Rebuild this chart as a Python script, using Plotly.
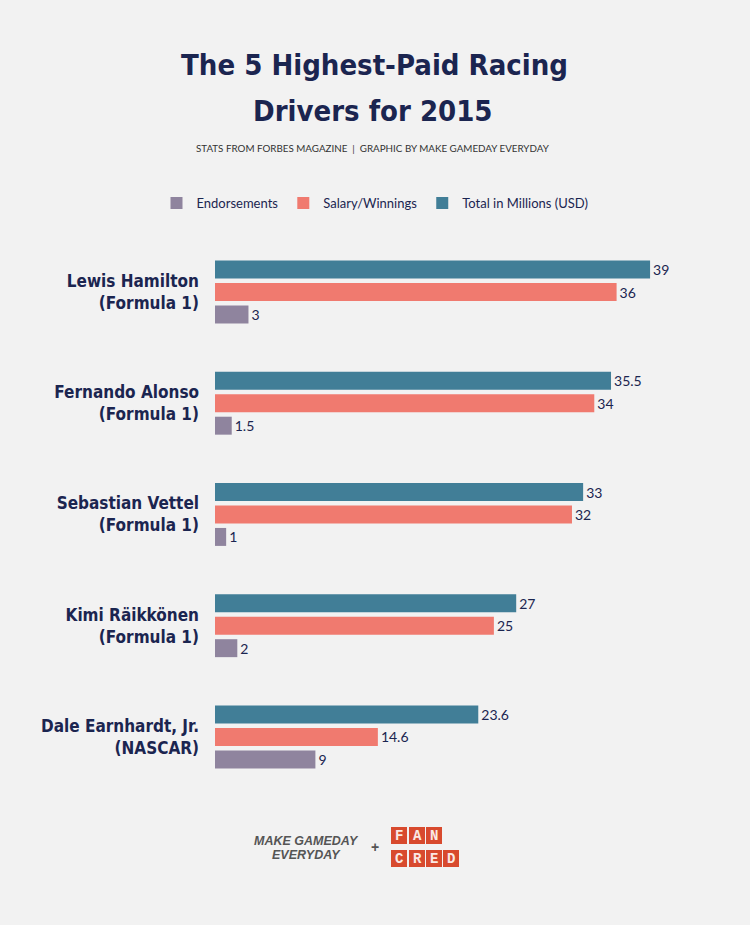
import plotly.graph_objects as go

drivers = ["Lewis Hamilton<br>(Formula 1)", "Fernando Alonso<br>(Formula 1)",
           "Sebastian Vettel<br>(Formula 1)", "Kimi Räikkönen<br>(Formula 1)",
           "Dale Earnhardt, Jr.<br>(NASCAR)"]
total = [39, 35.5, 33, 27, 23.6]
salary = [36, 34, 32, 25, 14.6]
endorsements = [3, 1.5, 1, 2, 9]

W, H = 750, 925
NAVY = "#1b2550"
BG = "#f2f2f2"

def px_x(x):
    return x / W

def px_y(y):
    return 1 - y / H

fig = go.Figure()
series = [("Total in Millions (USD)", total, "#417e97"),
          ("Salary/Winnings", salary, "#f07a6f"),
          ("Endorsements", endorsements, "#8f849e")]
for name, vals, col in series:
    fig.add_trace(go.Bar(
        y=drivers, x=vals, name=name, orientation="h",
        marker=dict(color=col, line=dict(width=0)),
        text=[f"{v:g}" for v in vals], textposition="outside",
        textfont=dict(family="Lato", size=14, color=NAVY),
        cliponaxis=False, hoverinfo="skip"))

title_font = dict(family="DejaVu Sans Condensed", size=29, color=NAVY, weight=700)
annotations = [
    dict(text="The 5 Highest-Paid Racing", x=px_x(374), y=px_y(65),
         xref="paper", yref="paper", showarrow=False, xanchor="center", yanchor="middle",
         font=title_font),
    dict(text="Drivers for 2015", x=px_x(373), y=px_y(111),
         xref="paper", yref="paper", showarrow=False, xanchor="center", yanchor="middle",
         font=title_font),
    dict(text="STATS FROM FORBES MAGAZINE  |  GRAPHIC BY MAKE GAMEDAY EVERYDAY",
         x=px_x(373), y=px_y(148), xref="paper", yref="paper", showarrow=False,
         xanchor="center", yanchor="middle",
         font=dict(family="Lato", size=9.8, color="#333333")),
    dict(text="<b><i>MAKE GAMEDAY</i></b>", x=px_x(306), y=px_y(841), xref="paper", yref="paper",
         showarrow=False, xanchor="center", yanchor="middle",
         font=dict(family="Liberation Sans", size=12.5, color="#555555")),
    dict(text="<b><i>EVERYDAY</i></b>", x=px_x(306), y=px_y(855), xref="paper", yref="paper",
         showarrow=False, xanchor="center", yanchor="middle",
         font=dict(family="Liberation Sans", size=12.5, color="#555555")),
    dict(text="<b>+</b>", x=px_x(375), y=px_y(847), xref="paper", yref="paper",
         showarrow=False, xanchor="center", yanchor="middle",
         font=dict(family="Liberation Sans", size=14, color="#555555")),
]

shapes = []
boxes = [("F", 391, 827), ("A", 409, 827), ("N", 426, 827),
         ("C", 391, 850), ("R", 409, 850), ("E", 426, 850), ("D", 443, 850)]
for letter, bx, by in boxes:
    shapes.append(dict(type="rect", xref="paper", yref="paper",
                       x0=px_x(bx), x1=px_x(bx + 16), y0=px_y(by + 17), y1=px_y(by),
                       fillcolor="#d84a2e", line=dict(width=0), layer="above"))
    annotations.append(dict(text=f"<b>{letter}</b>", x=px_x(bx + 8), y=px_y(by + 8.5),
                            xref="paper", yref="paper", showarrow=False,
                            xanchor="center", yanchor="middle",
                            font=dict(family="Liberation Mono", size=14, color="#fbe9e4")))

fig.update_layout(
    width=W, height=H,
    margin=dict(l=0, r=0, t=0, b=0),
    paper_bgcolor=BG, plot_bgcolor=BG,
    barmode="group", bargap=0.395, bargroupgap=0.2,
    showlegend=True,
    legend=dict(orientation="h", traceorder="reversed", x=0.5, xanchor="center",
                y=px_y(203), yanchor="middle",
                font=dict(family="Lato", size=13, color=NAVY), bgcolor="rgba(0,0,0,0)"),
    xaxis=dict(domain=[px_x(215), px_x(717)], range=[0, 45], visible=False, fixedrange=True),
    yaxis=dict(domain=[px_y(792.6), px_y(236.4)], autorange="reversed",
               showgrid=False, zeroline=False, showline=False, ticks="",
               ticklabelstandoff=15,
               tickfont=dict(family="DejaVu Sans Condensed", size=17, color=NAVY, weight=700),
               type="category"),
    font=dict(family="Lato", color=NAVY),
    annotations=annotations,
    shapes=shapes,
)

fig.write_html("out.html")
